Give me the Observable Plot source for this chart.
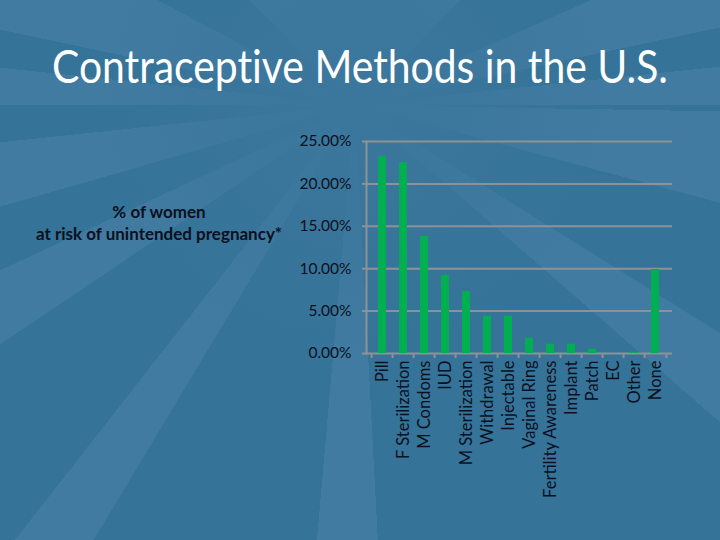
<!DOCTYPE html>
<html>
<head>
<meta charset="utf-8">
<script src="https://cdn.jsdelivr.net/npm/d3@7"></script>
<script src="https://cdn.jsdelivr.net/npm/@observablehq/plot@0.6"></script>
<style>
  html, body { margin: 0; padding: 0; }
  #page {
    position: relative; width: 720px; height: 540px; overflow: hidden;
    font-family: Lato, "Open Sans", sans-serif;
    background:
      radial-gradient(circle at 355px 105px, #3b769c 0px, rgba(59,118,156,0.85) 90px, rgba(59,118,156,0) 260px),
      conic-gradient(from 0deg at 355px 105px,
      #417ba1 0deg 45deg, #357398 45deg 66deg, #417ba1 66deg 78deg,
      #357398 78deg 84deg, #417ba1 84deg 90deg, #357398 90deg 91deg,
      #417ba1 91deg 105deg, #357398 105deg 122deg, #417ba1 122deg 131deg,
      #357398 131deg 177deg, #417ba1 177deg 185deg, #357398 185deg 211deg,
      #417ba1 211deg 218deg, #357398 218deg 236deg, #417ba1 236deg 245deg,
      #357398 245deg 254deg, #417ba1 254deg 264deg, #357398 264deg 270deg,
      #417ba1 270deg 276deg, #357398 276deg 282deg, #417ba1 282deg 298deg,
      #357398 298deg 315deg, #417ba1 315deg 360deg);
  }
  #title {
    position: absolute; left: 52px; top: 38px; white-space: nowrap;
    color: #ffffff; font-size: 46px; font-weight: 400; transform-origin: 0 0;
    font-family: Lato, sans-serif; font-variant-ligatures: none;
  }
  #ylabel {
    position: absolute; left: 19px; top: 201px; width: 280px; text-align: center;
    font-weight: bold; font-size: 17px; line-height: 22px; color: #0b1020;
  }
  #chart { position: absolute; left: 0; top: 0; }
</style>
</head>
<body>
<div id="page">
  <div id="title">Contraceptive Methods in the U.S.</div>
  <div id="ylabel">% of women<br>at risk of unintended pregnancy*</div>
  <div id="chart"></div>
</div>
<script>
const categories = ["Pill", "F Sterilization", "M Condoms", "IUD", "M Sterilization", "Withdrawal", "Injectable", "Vaginal Ring", "Fertility Awareness", "Implant", "Patch", "EC", "Other", "None"];
const values = [0.232, 0.225, 0.138, 0.092, 0.073, 0.044, 0.044, 0.018, 0.011, 0.011, 0.005, 0.0, 0.0015, 0.099];
const yTicks = [0, 0.05, 0.10, 0.15, 0.20, 0.25];

const data = categories.map((c, i) => ({category: c, value: values[i]}));

const W = 720, H = 540;
const mL = 366, mR = 48, mT = 141, mB = 187;
const step = (W - mL - mR) / categories.length;
const gridColor = "#8e9296";
const textColor = "#0b1020";

const chart = Plot.plot({
  width: W, height: H,
  marginLeft: mL, marginRight: mR, marginTop: mT, marginBottom: mB,
  style: {background: "transparent", fontFamily: "Lato, sans-serif", color: textColor},
  x: {domain: categories, paddingInner: 0.61, paddingOuter: 0.305, label: null},
  y: {domain: [0, 0.25], label: null},
  marks: [
    Plot.gridY(yTicks, {stroke: gridColor, strokeOpacity: 1, strokeWidth: 2}),
    Plot.axisY(yTicks, {
      tickSize: 4, tickPadding: 11, stroke: gridColor, strokeWidth: 2,
      tickFormat: d => d3.format(".2%")(d), fontSize: 15.5, fill: textColor, label: null
    }),
    Plot.frame({anchor: "left", stroke: gridColor, strokeWidth: 2}),
    Plot.axisX({
      tickSize: 5, stroke: gridColor, strokeWidth: 2, dx: -step / 2,
      tickFormat: () => "", label: null
    }),
    Plot.axisX([categories[categories.length - 1]], {
      tickSize: 5, stroke: gridColor, strokeWidth: 2, dx: step / 2,
      tickFormat: () => "", label: null
    }),
    Plot.axisX({
      tickSize: 0, tickPadding: 7, tickRotate: -90, fontSize: 16.5,
      fill: textColor, label: null
    }),
    Plot.barY(data, {x: "category", y: "value", fill: "#00b050"})
  ]
});
document.getElementById("chart").appendChild(chart);

// fit title to its measured width in the reference layout
const t = document.getElementById("title");
const tw = t.getBoundingClientRect().width;
t.style.transform = `scaleX(${616 / tw})`;
</script>
</body>
</html>
